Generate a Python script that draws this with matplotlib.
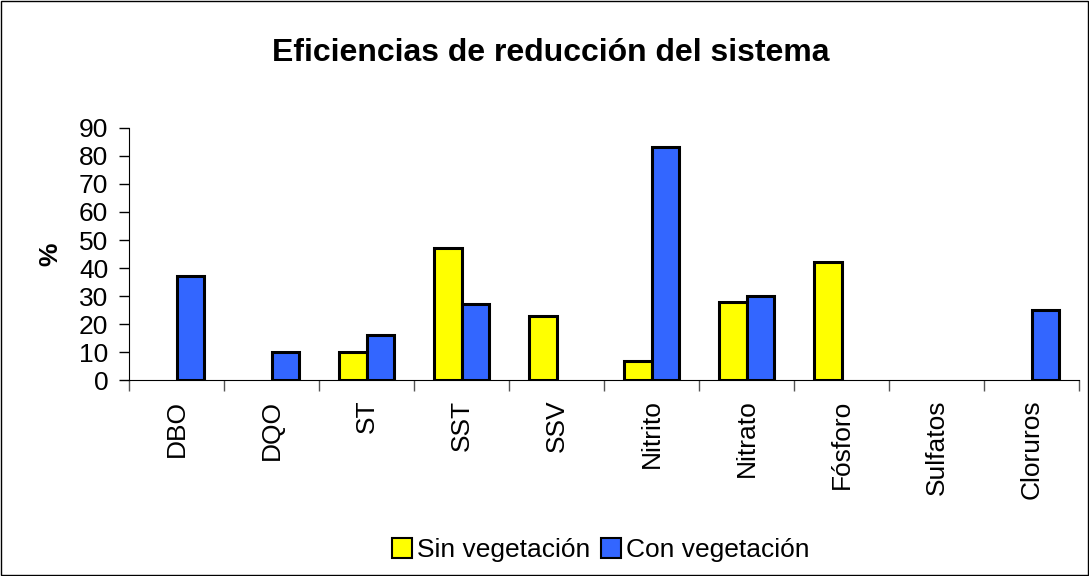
import numpy as np
import matplotlib.pyplot as plt
from matplotlib.patches import Rectangle, Patch

plt.rcParams['font.family'] = ['Liberation Sans', 'DejaVu Sans']

categorias = ["DBO", "DQO", "ST", "SST", "SSV", "Nitrito", "Nitrato", "Fósforo", "Sulfatos", "Cloruros"]
sin_veg = [0, 0, 10, 47, 23, 7, 28, 42, 0, 0]
con_veg = [37, 10, 16, 27, 0, 83, 30, 0, 0, 25]
yticks = list(range(0, 100, 10))

amarillo = '#FFFF00'
azul = '#3366FF'

fig = plt.figure(figsize=(10.89, 5.76), dpi=100)
ax = fig.add_axes([0.1185, 0.340, 0.8725, 0.438])

x = np.arange(len(categorias))
w = 0.29
b1 = ax.bar(x - w / 2, sin_veg, w, color=amarillo, edgecolor='black', linewidth=2.2)
b2 = ax.bar(x + w / 2, con_veg, w, color=azul, edgecolor='black', linewidth=2.2)
# Excel no dibuja las barras con valor cero
for barras in (b1, b2):
    for p in barras.patches:
        if p.get_height() == 0:
            p.set_visible(False)

ax.set_xlim(-0.5, len(categorias) - 0.5)
ax.set_ylim(0, 90)
ax.set_yticks(yticks)
ax.tick_params(axis='y', labelsize=19, length=7, width=1, direction='out', pad=8)
ax.set_xticks(x)
ax.set_xticklabels(categorias, rotation=90, fontsize=19)
ax.tick_params(axis='x', length=0, pad=14)
ax.set_xticks(np.arange(-0.5, len(categorias)), minor=True)
ax.tick_params(axis='x', which='minor', length=8, width=1, color='#555555')
ax.spines['top'].set_visible(False)
ax.spines['right'].set_visible(False)
ax.set_ylabel('%', fontsize=19, fontweight='bold', labelpad=12)

fig.text(0.506, 0.908, 'Eficiencias de reducción del sistema', ha='center', va='center',
         fontsize=23, fontweight='bold')

handles = [Patch(facecolor=amarillo, edgecolor='black', linewidth=1.5, label='Sin vegetación'),
           Patch(facecolor=azul, edgecolor='black', linewidth=1.5, label='Con vegetación')]
fig.legend(handles=handles, loc='center', bbox_to_anchor=(0.552, 0.045), ncol=2, frameon=False,
           fontsize=19, handlelength=0.75, handleheight=0.75, handletextpad=0.2, columnspacing=0.4)

fig.patches.append(Rectangle((0.001, 0.001), 0.998, 0.998, transform=fig.transFigure,
                             fill=False, edgecolor='black', linewidth=1))

fig.savefig('out.png', dpi=100)
